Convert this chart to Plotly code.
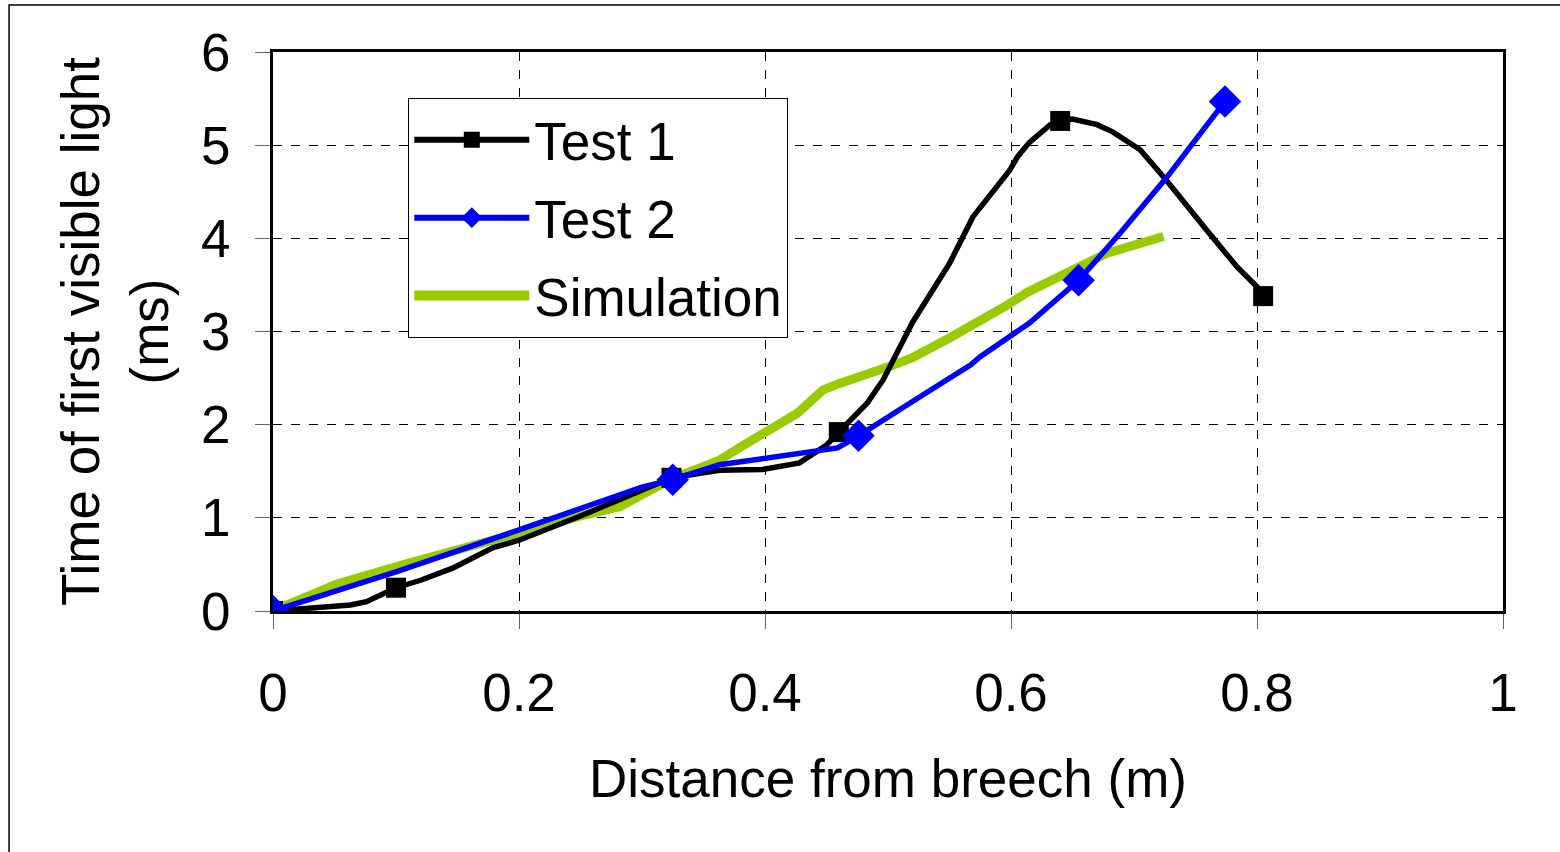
import plotly.graph_objects as go

# Test 1: full line path and marker points
t1_x = [0.0, 0.028, 0.063, 0.076, 0.1, 0.12, 0.146, 0.179, 0.2, 0.25, 0.3, 0.324, 0.363, 0.398, 0.428, 0.45, 0.46,
        0.483, 0.496, 0.52, 0.55, 0.569, 0.599, 0.605, 0.615, 0.632, 0.64, 0.65, 0.67, 0.683, 0.705, 0.724,
        0.759, 0.784, 0.8, 0.805]
t1_y = [0.0, 0.03, 0.065, 0.1, 0.25, 0.33, 0.46, 0.68, 0.76, 1.02, 1.3, 1.43, 1.51, 1.52, 1.59, 1.78, 1.92,
        2.23, 2.48, 3.1, 3.73, 4.23, 4.73, 4.87, 5.03, 5.22, 5.26, 5.28, 5.22, 5.14, 4.95, 4.66,
        4.09, 3.69, 3.48, 3.38]
t1_mx = [0.0, 0.1, 0.324, 0.46, 0.64, 0.805]
t1_my = [0.0, 0.25, 1.43, 1.92, 5.26, 3.38]

# Test 2
t2_x = [0.0, 0.1, 0.2, 0.26, 0.3, 0.325, 0.363, 0.459, 0.476, 0.526, 0.567, 0.575, 0.615, 0.655, 0.689, 0.727, 0.774]
t2_y = [0.0, 0.42, 0.87, 1.15, 1.33, 1.41, 1.57, 1.75, 1.88, 2.3, 2.64, 2.73, 3.09, 3.55, 4.06, 4.66, 5.47]
t2_mx = [0.0, 0.325, 0.476, 0.655, 0.774]
t2_my = [0.0, 1.41, 1.88, 3.55, 5.47]

# Simulation
sim_x = [0.0, 0.052, 0.109, 0.141, 0.217, 0.25, 0.282, 0.323, 0.363, 0.385, 0.426, 0.447, 0.46, 0.5, 0.52,
         0.55, 0.577, 0.599, 0.613, 0.632, 0.659, 0.678, 0.724]
sim_y = [0.0, 0.29, 0.51, 0.62, 0.9, 1.02, 1.12, 1.41, 1.62, 1.8, 2.12, 2.37, 2.44, 2.62, 2.72,
         2.93, 3.12, 3.3, 3.42, 3.55, 3.71, 3.84, 4.02]

x_ticks = [0, 0.2, 0.4, 0.6, 0.8, 1]
y_ticks = [0, 1, 2, 3, 4, 5, 6]

FONT = "Liberation Sans, Arial, sans-serif"
FS = 53
GREEN = "#99cc00"
BLUE = "#0000ff"

fig = go.Figure()

fig.add_trace(go.Scatter(x=sim_x, y=sim_y, mode="lines", line=dict(color=GREEN, width=9),
                         showlegend=False, hoverinfo="skip"))
fig.add_trace(go.Scatter(x=t1_x, y=t1_y, mode="lines", line=dict(color="black", width=5.5),
                         showlegend=False))
fig.add_trace(go.Scatter(x=t1_mx, y=t1_my, mode="markers",
                         marker=dict(symbol="square", size=20, color="black"), showlegend=False))
fig.add_trace(go.Scatter(x=t2_x, y=t2_y, mode="lines", line=dict(color=BLUE, width=5.5),
                         showlegend=False))
fig.add_trace(go.Scatter(x=t2_mx, y=t2_my, mode="markers",
                         marker=dict(symbol="diamond", size=25, color=BLUE), showlegend=False))

# Legend entries
fig.add_trace(go.Scatter(x=[None], y=[None], mode="lines+markers", name="Test 1", legendgroup="a",
                         line=dict(color="black", width=6),
                         marker=dict(symbol="square", size=20, color="black")))
fig.add_trace(go.Scatter(x=[None], y=[None], mode="lines+markers", name="Test 2", legendgroup="b",
                         line=dict(color=BLUE, width=6),
                         marker=dict(symbol="diamond", size=25, color=BLUE)))
fig.add_trace(go.Scatter(x=[None], y=[None], mode="lines", name="Simulation", legendgroup="c",
                         line=dict(color=GREEN, width=10)))

axis_common = dict(showgrid=True, gridcolor="black", griddash="dash", gridwidth=1,
                   showline=True, linecolor="black", linewidth=3, mirror=True,
                   ticks="outside", ticklen=15, tickcolor="#666666", tickwidth=1,
                   zeroline=False, tickfont=dict(family=FONT, size=FS, color="black"))

fig.update_layout(
    width=1560, height=852,
    margin=dict(l=273, r=57, t=52, b=241),
    paper_bgcolor="white", plot_bgcolor="white",
    font=dict(family=FONT, color="black"),
    xaxis=dict(range=[0, 1], tickvals=x_ticks, ticktext=[str(v) for v in x_ticks],
               ticklabelstandoff=18,
               title=dict(text="Distance from breech (m)", font=dict(size=FS), standoff=40),
               **axis_common),
    yaxis=dict(range=[0, 6], tickvals=y_ticks, ticktext=[str(v) for v in y_ticks],
               ticklabelstandoff=14,
               title=dict(text="Time of first visible light<br>(ms)", font=dict(size=FS), standoff=16),
               **axis_common),
    legend=dict(x=0.11, y=0.918, xanchor="left", yanchor="top",
                bgcolor="white", bordercolor="black", borderwidth=1,
                font=dict(family=FONT, size=FS, color="black"),
                itemwidth=115, tracegroupgap=6),
    shapes=[dict(type="rect", xref="paper", yref="paper",
                 x0=-0.2146, x1=1.1, y0=-0.6, y1=1.084,
                 line=dict(color="black", width=1.5), fillcolor="rgba(0,0,0,0)", layer="below")],
)

fig.write_html("out.html")
